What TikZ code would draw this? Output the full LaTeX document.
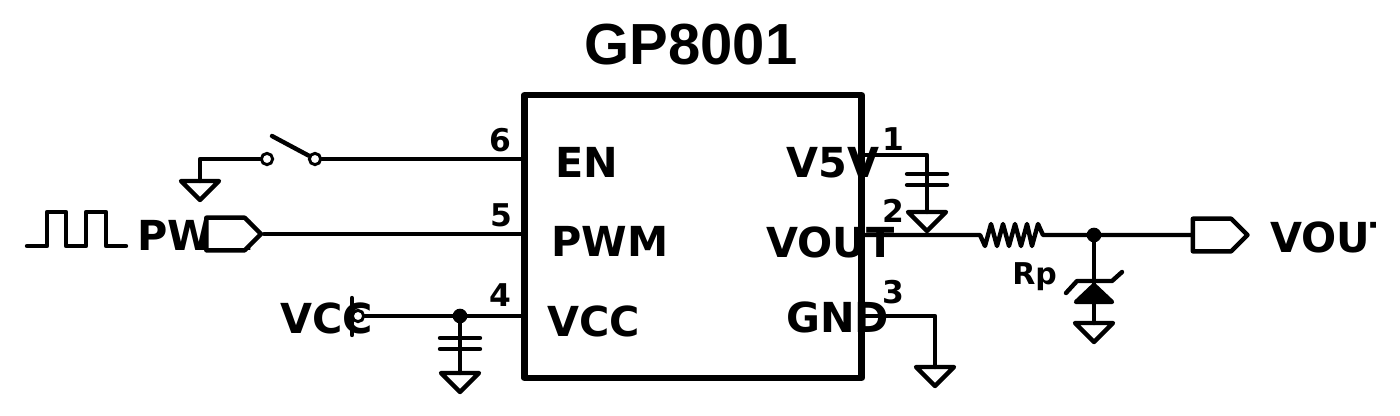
\documentclass[tikz,border=0pt]{standalone}
\usepackage{fontspec}
\setmainfont{DejaVu Sans}
\newfontfamily\titlefont{Liberation Sans}
\usetikzlibrary{shapes.symbols}
\tikzset{
  wire/.style = {line width=3.3pt, line cap=round, line join=round},
  lab/.style = {inner sep=0pt, anchor=base west, font=\fontsize{31}{31}\selectfont\bfseries},
  pin/.style = {inner sep=0pt, anchor=center, font=\fontsize{23.5}{23.5}\selectfont\bfseries},
  port/.style = {draw, wire, fill=white, shape=signal, signal to=east, signal from=nowhere, signal pointer angle=90, minimum width=41pt, minimum height=24.5pt, inner sep=0pt},
  dot/.style = {circle, fill, inner sep=0pt, minimum size=11pt},
  hole/.style = {circle, draw, fill=white, line width=2.2pt, inner sep=0pt, minimum size=8.5pt},
  pics/gnd/.style = {code={\draw[wire] (-19,0) -- (19,0) -- (0,19) -- cycle;}},
  pics/cap/.style = {code={\draw[wire] (-20,0) -- (20,0) (-20,11) -- (20,11);}}
}
\begin{document}
\begin{tikzpicture}[x=0.75pt, y=-0.75pt]
\useasboundingbox (0,0) rectangle (1400,415);
\begin{scope}
\clip (0,0) rectangle (1375,415);
\node[inner sep=0pt, anchor=base, font=\fontsize{43.5}{43.5}\selectfont\titlefont\bfseries] (title) at (691,64) {GP8001};
\node[draw, line width=4.8pt, line join=round, minimum width=253pt, minimum height=212pt, inner sep=0pt] (chip) at (693,236.5) {};
% pins on the chip
\coordinate (p6) at (524,159);
\coordinate (p5) at (524,234);
\coordinate (p4) at (524,316);
\coordinate (p1) at (862,155);
\coordinate (p2) at (862,235);
\coordinate (p3) at (862,316);
\node[pin] (n6) at (500,140) {6};
\node[pin] (n5) at (501,215) {5};
\node[pin] (n4) at (500,295) {4};
\node[pin] (n1) at (893,139) {1};
\node[pin] (n2) at (893,211) {2};
\node[pin] (n3) at (893,292) {3};
\node[lab] (en) at (555,177) {EN};
\node[lab] (pwm) at (551,256) {PWM};
\node[lab] (vcc) at (547,336) {VCC};
\node[lab] (vfive) at (786,177) {V5V};
\node[lab] (vout) at (766,257) {VOUT};
\node[lab] (gnd) at (786,332) {GND};
% enable switch
\node[hole] (swa) at (267,159) {};
\node[hole] (swb) at (315,159) {};
\coordinate (swtip) at (272,136);
\coordinate (engnd) at (200,181);
\draw[wire] (swb) -- (p6);
\draw[wire] (swa) -- (200,159) -- (engnd);
\draw[wire] (swtip) -- (swb);
\pic at (engnd) {gnd};
% pwm input
\draw[wire] (27,246) -- (47,246) -- (47,212) -- (66,212) -- (66,246) -- (86,246) -- (86,212) -- (106,212) -- (106,246) -- (126,246);
\node[lab] (pwmin) at (137,250) {PWM};
\node[port] (pwmport) at (225.5,234) {};
\draw[wire] (pwmport.east) -- (p5);
% vcc input
\node[lab] (vccin) at (280,333) {VCC};
\coordinate (vbara) at (352,298);
\coordinate (vbarb) at (352,335);
\node[circle, draw, line width=2.2pt, inner sep=0pt, minimum size=8.5pt] (vend) at (358,316) {};
\node[dot] (vdot) at (460,316) {};
\coordinate (vgnd) at (460,373);
\draw[wire] (vbara) -- (vbarb);
\draw[wire] (vend) -- (vdot) -- (p4);
\draw[wire] (vdot) -- (vgnd);
\pic at (460,338) {cap};
\pic at (vgnd) {gnd};
% v5v decoupling
\coordinate (fcorner) at (927,155);
\coordinate (fgnd) at (927,212);
\draw[wire] (p1) -- (fcorner) -- (fgnd);
\pic at (927,174) {cap};
\pic at (fgnd) {gnd};
% gnd pin
\coordinate (gcorner) at (935,316);
\coordinate (ggnd) at (935,367);
\draw[wire] (p3) -- (gcorner) -- (ggnd);
\pic at (ggnd) {gnd};
% output with resistor and zener
\coordinate (ra) at (980,235);
\coordinate (rb) at (1043,235);
\node[dot] (odot) at (1094,235) {};
\node[port] (outport) at (1212,235) {};
\draw[wire] (p2) -- (ra) -- (985,246) -- (991,224) -- (997,246) -- (1003,224) -- (1009,246) -- (1015,224) -- (1021,246) -- (1027,224) -- (1032,246) -- (1038,224) -- (rb) -- (odot) -- (outport.west);
\node[inner sep=0pt, anchor=base west, font=\fontsize{22.5}{22.5}\selectfont\bfseries] (rp) at (1012,284) {Rp};
\coordinate (zgnd) at (1094,323);
\draw[wire] (odot) -- (zgnd);
\draw[wire, fill] (1094,285) -- (1112,302) -- (1076,302) -- cycle;
\draw[wire] (1066,293) -- (1077,281) -- (1112,281) -- (1122,272);
\pic at (zgnd) {gnd};
\node[lab] (voutout) at (1270,252) {VOUT};
\end{scope}
\end{tikzpicture}
\end{document}
